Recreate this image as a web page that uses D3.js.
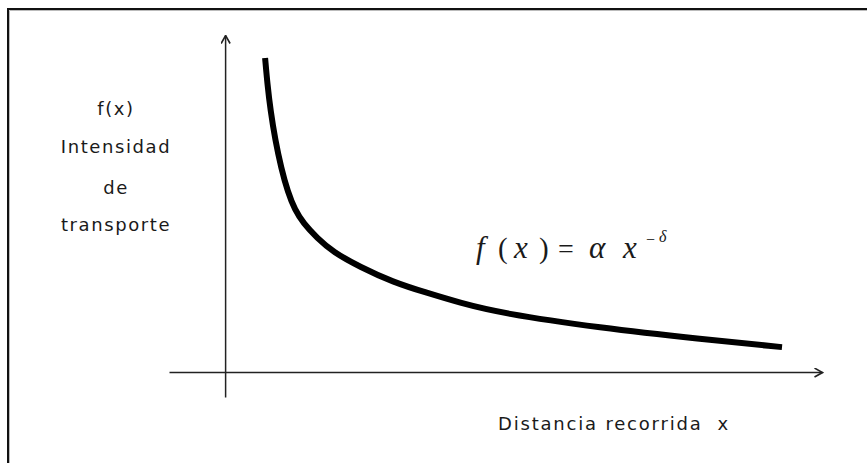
<!DOCTYPE html>
<html>
<head>
<meta charset="utf-8">
<script src="https://cdn.jsdelivr.net/npm/d3@7"></script>
<style>
  html, body { margin: 0; padding: 0; background: #fff; }
  svg { display: block; }
  .lbl { font-family: "DejaVu Sans", sans-serif; fill: #1a1a1a; }
  .eq { font-family: "Liberation Serif", "DejaVu Serif", serif; font-style: italic; fill: #1a1a1a; }
</style>
</head>
<body>
<svg width="867" height="463"></svg>
<script>
// curve (data units, origin at the axes crossing)
const distX = [0.67, 0.71, 0.76, 0.84, 0.94, 1.05, 1.17, 1.31, 1.54, 1.81, 2.26, 2.81, 3.38, 3.94, 4.61, 6.28, 7.96, 9.33];
const intensY = [9.32, 8.52, 7.77, 6.88, 6.05, 5.34, 4.81, 4.42, 3.98, 3.56, 3.12, 2.67, 2.35, 2.05, 1.75, 1.31, 0.98, 0.74];
const yLabelLines = ["f(x)", "Intensidad", "de", "transporte"];
const xLabel = "Distancia recorrida\u00a0 x";

const svg = d3.select('svg');
const width = 867, height = 463;

// frame (only top and left edges show)
svg.append('path')
  .attr('d', 'M8,' + height + 'V9H' + width)
  .attr('fill', 'none').attr('stroke', '#111').attr('stroke-width', 2);
svg.append('path')
  .attr('d', 'M9.5,' + height + 'V10.5H' + width)
  .attr('fill', 'none').attr('stroke', '#bbb').attr('stroke-width', 1);

const x = d3.scaleLinear().domain([-0.94, 10]).range([169, 822]);
const y = d3.scaleLinear().domain([-0.74, 10]).range([397, 35]);

const defs = svg.append('defs');
defs.append('marker')
  .attr('id', 'arrow')
  .attr('viewBox', '0 0 10 10')
  .attr('refX', 9).attr('refY', 5)
  .attr('markerWidth', 10).attr('markerHeight', 10)
  .attr('markerUnits', 'userSpaceOnUse')
  .attr('orient', 'auto')
  .append('path')
    .attr('d', 'M1,0.5L9,5L1,9.5')
    .attr('fill', 'none').attr('stroke', '#222').attr('stroke-width', 1.6);

const xAxis = svg.append('g')
  .attr('transform', 'translate(0,' + y(0) + ')')
  .call(d3.axisBottom(x).tickValues([]).tickSizeOuter(0));
const yAxis = svg.append('g')
  .attr('transform', 'translate(' + x(0) + ',0)')
  .call(d3.axisLeft(y).tickValues([]).tickSizeOuter(0));
[xAxis, yAxis].forEach(a => a.select('.domain')
  .attr('stroke', '#222').attr('stroke-width', 1.5)
  .attr('marker-end', 'url(#arrow)'));

const pts = distX.map((d, i) => [d, intensY[i]]);
const line = d3.line()
  .x(d => x(d[0]))
  .y(d => y(d[1]))
  .curve(d3.curveBasis);
svg.append('path')
  .datum(pts)
  .attr('d', line)
  .attr('fill', 'none')
  .attr('stroke', '#000')
  .attr('stroke-width', 6)
  .attr('stroke-linecap', 'butt');

// y label block
const yl = svg.append('text').attr('class', 'lbl')
  .attr('text-anchor', 'middle')
  .style('font-size', '18px').style('letter-spacing', '1.6px');
const baselines = [115, 153, 194, 231];
yl.selectAll('tspan').data(yLabelLines).enter().append('tspan')
  .attr('x', 116)
  .attr('y', (d, i) => baselines[i])
  .text(d => d);

// x label
svg.append('text').attr('class', 'lbl')
  .attr('x', 498).attr('y', 430)
  .style('font-size', '18px').style('letter-spacing', '1.8px')
  .text(xLabel);

// formula  f(x) = α x^-δ
const eq = svg.append('text').attr('class', 'eq').attr('y', 258).style('font-size', '31px');
eq.append('tspan').attr('x', 476).text('f');
eq.append('tspan').attr('x', 498).style('font-style', 'normal').style('font-size', '29px').text('(');
eq.append('tspan').attr('x', 514).text('x');
eq.append('tspan').attr('x', 539).style('font-style', 'normal').style('font-size', '29px').text(')');
eq.append('tspan').attr('x', 558).style('font-style', 'normal').style('font-size', '28px').text('=');
eq.append('tspan').attr('x', 589).text('\u03b1');
eq.append('tspan').attr('x', 623).text('x');
eq.append('tspan').attr('x', 646).attr('y', 245).style('font-size', '16px').style('font-style', 'normal').text('\u2212');
eq.append('tspan').attr('x', 659).attr('y', 242).style('font-size', '16px').text('\u03b4');
</script>
</body>
</html>
